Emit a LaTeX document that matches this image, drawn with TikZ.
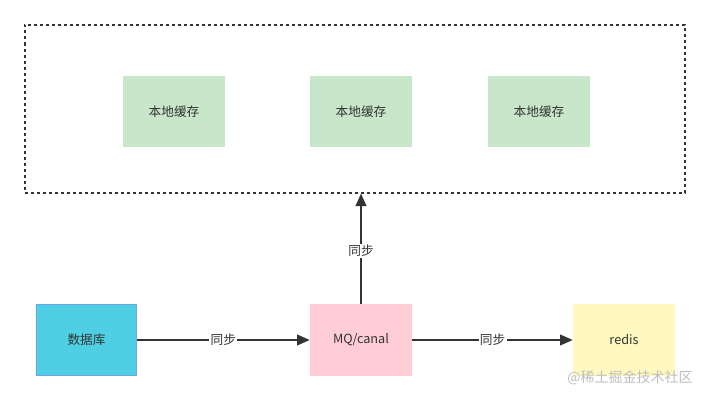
\documentclass[tikz,border=0pt]{standalone}
\usepackage{fontspec}
\setmainfont{Noto Sans CJK SC}
\usetikzlibrary{arrows.meta, positioning}
\definecolor{cacheG}{RGB}{200, 230, 201}
\definecolor{dbC}{RGB}{78, 207, 227}
\definecolor{dbB}{RGB}{110, 168, 232}
\definecolor{mqP}{RGB}{255, 205, 213}
\definecolor{redisY}{RGB}{255, 248, 192}
\definecolor{lineD}{RGB}{51, 51, 51}
\definecolor{markG}{RGB}{190, 190, 190}

\begin{document}
\begin{tikzpicture}[x=0.75pt, y=-0.75pt, font=\fontsize{9.5}{11}\selectfont, text=lineD,
        box/.style={rectangle, draw=none, minimum width=76.5pt, minimum height=53.5pt, align=center},
        link/.style={-{Triangle[length=9.5pt, width=8pt]}, line width=1.5pt, lineD},
        lab/.style={fill=white, inner sep=1pt}]
    \useasboundingbox (0,0) rectangle (710,400);
    \node[draw=lineD, line width=1.5pt, dash pattern=on 2.25pt off 2.25pt, minimum width=495pt, minimum height=126pt] (cache) at (355,108.5) {};
    \node[box, fill=cacheG] (c1) at (174,111.5) {本地缓存};
    \node[box, fill=cacheG] (c2) at (361,111.5) {本地缓存};
    \node[box, fill=cacheG] (c3) at (539,111.5) {本地缓存};
    \node[box, fill=dbC, draw=dbB, minimum width=75pt] (db) at (86.5,340) {数据库};
    \node[box, fill=mqP] (mq) at (361,340) {MQ/canal};
    \node[box, fill=redisY] (redis) at (624,340) {redis};
    \draw[link] (db) -- node[lab] {同步} (mq);
    \draw[link] (mq) -- node[lab] {同步} (redis);
    \draw[link] (mq) -- node[lab, pos=0.48] {同步} (mq |- cache.south);
    \node[text=markG, font=\fontsize{10.5}{12}\selectfont] (mark) at (630,378) {@稀土掘金技术社区};
\end{tikzpicture}
\end{document}
